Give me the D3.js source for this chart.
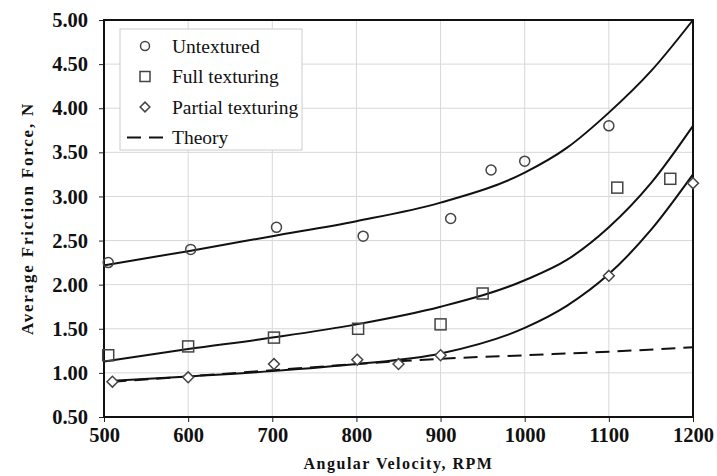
<!DOCTYPE html>
<html>
<head>
<meta charset="utf-8">
<script src="https://cdn.jsdelivr.net/npm/d3@7"></script>
<style>
  body { margin: 0; background: #fff; }
  svg { display: block; font-family: "Liberation Serif", "Times New Roman", serif; }
</style>
</head>
<body>
<svg id="chart" width="717" height="476"></svg>
<script>
// measured points
const untexturedPts = [[505, 2.25], [603, 2.40], [705, 2.65], [808, 2.55], [912, 2.75], [960, 3.30], [1000, 3.40], [1100, 3.80]];
const fullPts = [[505, 1.20], [600, 1.30], [702, 1.40], [802, 1.50], [900, 1.55], [950, 1.90], [1110, 3.10], [1173, 3.20]];
const partialPts = [[510, 0.90], [600, 0.95], [702, 1.10], [801, 1.15], [850, 1.10], [900, 1.20], [1100, 2.10], [1200, 3.15]];

// fitted curves
const untexturedFit = [[500, 2.22], [600, 2.38], [700, 2.55], [800, 2.72], [900, 2.93], [1000, 3.27], [1050, 3.55], [1100, 3.95], [1150, 4.42], [1200, 5.00]];
const fullFit = [[500, 1.13], [600, 1.27], [700, 1.40], [800, 1.55], [900, 1.75], [1000, 2.05], [1050, 2.28], [1100, 2.65], [1150, 3.15], [1200, 3.80]];
const partialFit = [[510, 0.91], [600, 0.96], [700, 1.02], [800, 1.10], [900, 1.22], [1000, 1.51], [1050, 1.76], [1100, 2.12], [1150, 2.62], [1200, 3.25]];
const theory = [[510, 0.90], [600, 0.96], [700, 1.03], [800, 1.10], [900, 1.16], [1000, 1.20], [1100, 1.24], [1200, 1.29]];

const xTicks = [500, 600, 700, 800, 900, 1000, 1100, 1200];
const yTicks = [0.5, 1.0, 1.5, 2.0, 2.5, 3.0, 3.5, 4.0, 4.5, 5.0];

const margin = { top: 20, right: 24, bottom: 59, left: 104 };
const width = 717, height = 476;
const svg = d3.select("#chart");

const x = d3.scaleLinear().domain([500, 1200]).range([margin.left, width - margin.right]);
const y = d3.scaleLinear().domain([0.5, 5]).range([height - margin.bottom, margin.top]);

// grid
svg.append("g").selectAll("line.gx").data(xTicks).join("line")
    .attr("x1", d => x(d)).attr("x2", d => x(d))
    .attr("y1", y(0.5)).attr("y2", y(5))
    .attr("stroke", "#d8d8d8").attr("stroke-width", 1);
svg.append("g").selectAll("line.gy").data(yTicks).join("line")
    .attr("x1", x(500)).attr("x2", x(1200))
    .attr("y1", d => y(d)).attr("y2", d => y(d))
    .attr("stroke", "#d8d8d8").attr("stroke-width", 1);

// axes
const xAxis = svg.append("g")
    .attr("transform", `translate(0,${y(0.5)})`)
    .call(d3.axisBottom(x).tickValues(xTicks).tickFormat(d3.format("d")).tickSize(5).tickPadding(5));
const yAxis = svg.append("g")
    .attr("transform", `translate(${x(500)},0)`)
    .call(d3.axisLeft(y).tickValues(yTicks).tickFormat(d3.format(".2f")).tickSize(5).tickPadding(11));
[xAxis, yAxis].forEach(a => {
    a.select(".domain").remove();
    a.selectAll("text").attr("font-family", "Liberation Serif").attr("font-size", 20.5)
        .attr("font-weight", "bold").attr("fill", "#111");
    a.selectAll(".tick line").attr("stroke", "#222");
});

// frame
svg.append("rect")
    .attr("x", x(500)).attr("y", y(5))
    .attr("width", x(1200) - x(500)).attr("height", y(0.5) - y(5))
    .attr("fill", "none").attr("stroke", "#111").attr("stroke-width", 2);

// curves
const line = d3.line().x(d => x(d[0])).y(d => y(d[1])).curve(d3.curveMonotoneX);
[untexturedFit, fullFit, partialFit].forEach(c => {
    svg.append("path").attr("d", line(c))
        .attr("fill", "none").attr("stroke", "#111").attr("stroke-width", 2);
});
svg.append("path").attr("d", line(theory))
    .attr("fill", "none").attr("stroke", "#111").attr("stroke-width", 2)
    .attr("stroke-dasharray", "14,8");

// markers
const mk = "#444";
svg.append("g").selectAll("circle").data(untexturedPts).join("circle")
    .attr("cx", d => x(d[0])).attr("cy", d => y(d[1])).attr("r", 5)
    .attr("fill", "none").attr("stroke", mk).attr("stroke-width", 1.5);
svg.append("g").selectAll("rect").data(fullPts).join("rect")
    .attr("x", d => x(d[0]) - 5.5).attr("y", d => y(d[1]) - 5.5)
    .attr("width", 11).attr("height", 11)
    .attr("fill", "none").attr("stroke", mk).attr("stroke-width", 1.5);
const diamond = d3.symbol().type(d3.symbolDiamond2).size(75);
svg.append("g").selectAll("path").data(partialPts).join("path")
    .attr("transform", d => `translate(${x(d[0])},${y(d[1])})`)
    .attr("d", diamond)
    .attr("fill", "#fff").attr("stroke", mk).attr("stroke-width", 1.5);

// legend
const lg = svg.append("g");
lg.append("rect").attr("x", 120).attr("y", 29).attr("width", 182).attr("height", 121)
    .attr("fill", "#fff").attr("stroke", "#ccc").attr("stroke-width", 1);
const items = ["Untextured", "Full texturing", "Partial texturing", "Theory"];
items.forEach((t, i) => {
    const cy = 46 + i * 30.5;
    const g = lg.append("g");
    if (i === 0) g.append("circle").attr("cx", 145).attr("cy", cy).attr("r", 4.5)
        .attr("fill", "none").attr("stroke", mk).attr("stroke-width", 1.5);
    if (i === 1) g.append("rect").attr("x", 140).attr("y", cy - 5).attr("width", 10).attr("height", 10)
        .attr("fill", "none").attr("stroke", mk).attr("stroke-width", 1.5);
    if (i === 2) g.append("path").attr("transform", `translate(145,${cy})`)
        .attr("d", d3.symbol().type(d3.symbolDiamond2).size(60))
        .attr("fill", "none").attr("stroke", mk).attr("stroke-width", 1.5);
    if (i === 3) g.append("line").attr("x1", 127).attr("x2", 165).attr("y1", cy).attr("y2", cy)
        .attr("stroke", "#111").attr("stroke-width", 2).attr("stroke-dasharray", "14,8");
    g.append("text").attr("x", 172).attr("y", cy + 6.5).text(t)
        .attr("font-size", 19.5).attr("fill", "#111");
});

// axis titles
svg.append("text").attr("x", (x(500) + x(1200)) / 2).attr("y", 469)
    .attr("text-anchor", "middle").attr("font-size", 16).attr("font-weight", "bold")
    .attr("fill", "#111").attr("letter-spacing", 1.5).text("Angular Velocity, RPM");
svg.append("text").attr("transform", `translate(33,${(y(0.5) + y(5)) / 2}) rotate(-90)`)
    .attr("text-anchor", "middle").attr("font-size", 17).attr("font-weight", "bold")
    .attr("fill", "#111").attr("letter-spacing", 1.8).text("Average Friction Force, N");
</script>
</body>
</html>
